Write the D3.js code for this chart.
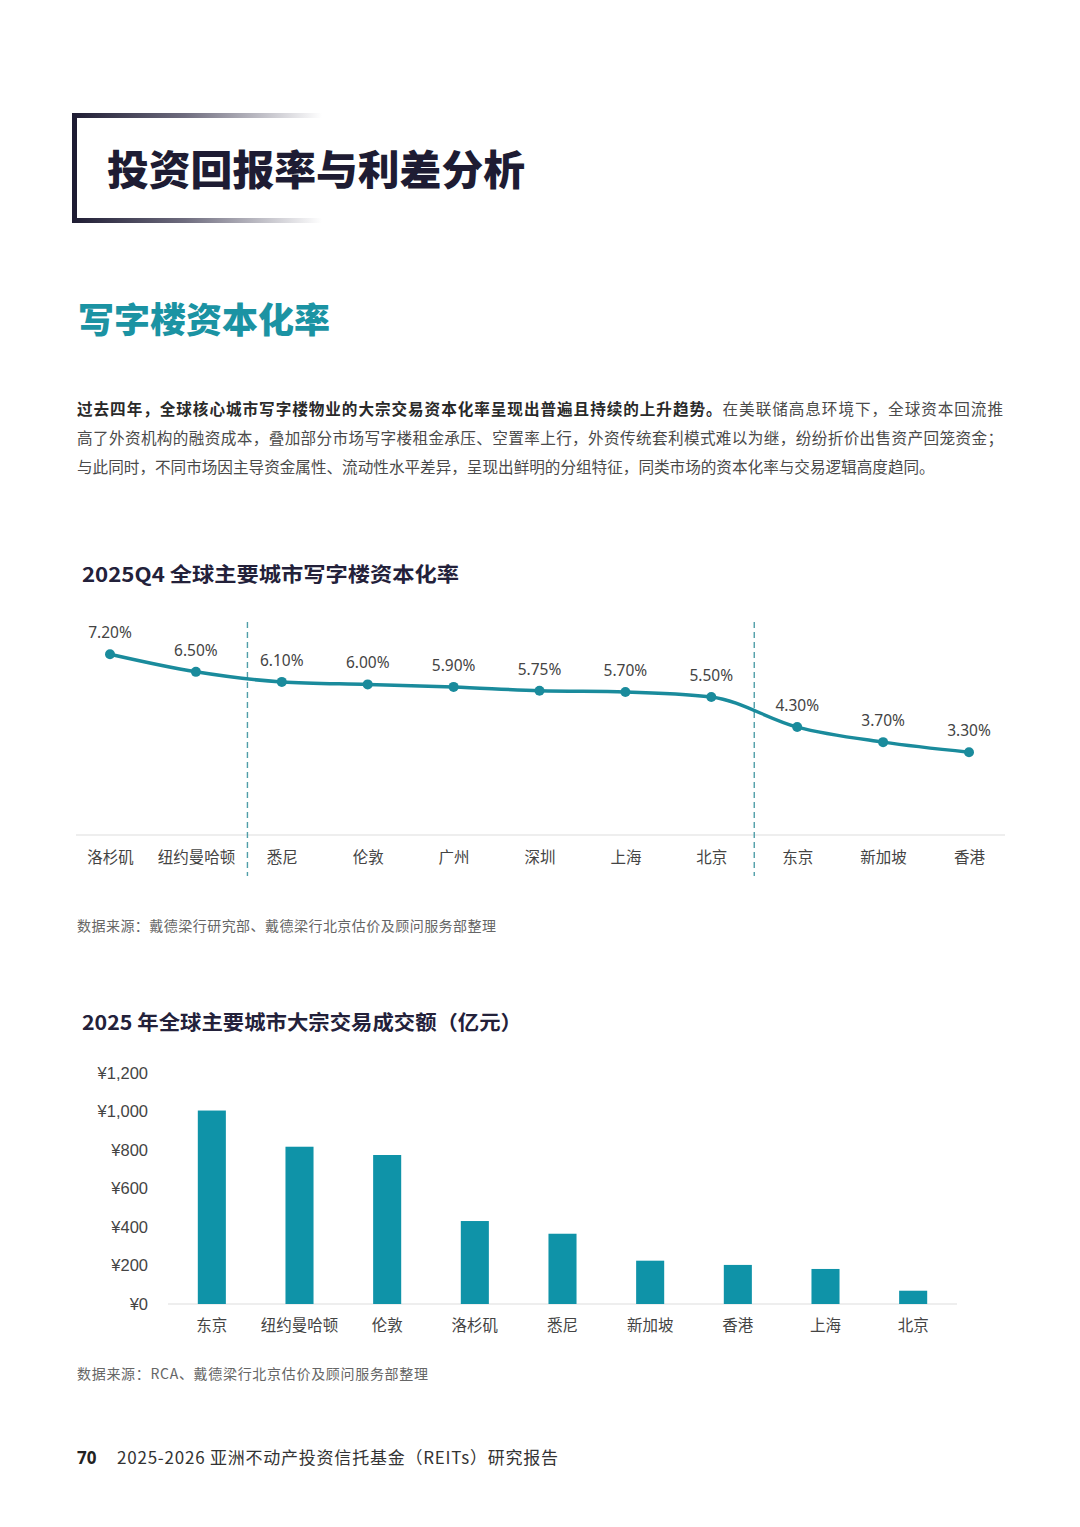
<!doctype html>
<html>
  <head>
    <meta charset="UTF-8">
    <title>投资回报率与利差分析</title>
    <script src="https://d3js.org/d3.v7.min.js"></script>
    <style>
      html, body { margin: 0; padding: 0; background: #fff; }
      svg { display: block; font-family: "Noto Sans", "Noto Sans CJK SC", sans-serif; }
      .cjk { font-family: "Noto Sans CJK SC", sans-serif; }
    </style>
  </head>
  <body>
    <svg id="page" width="1080" height="1527"></svg>
    <script>
      // Line chart: 2025Q4 office cap rates (%)
      const capCities = ["洛杉矶", "纽约曼哈顿", "悉尼", "伦敦", "广州", "深圳", "上海", "北京", "东京", "新加坡", "香港"];
      const capRates = [7.20, 6.50, 6.10, 6.00, 5.90, 5.75, 5.70, 5.50, 4.30, 3.70, 3.30];
      // group dividers, in category index units
      const capDividers = [1.6, 7.5];

      // Bar chart: 2025 transaction volume (亿元)
      const volCities = ["东京", "纽约曼哈顿", "伦敦", "洛杉矶", "悉尼", "新加坡", "香港", "上海", "北京"];
      const volValues = [1005, 817, 774, 431, 365, 225, 203, 182, 69];
      const volTicks = [0, 200, 400, 600, 800, 1000, 1200];

      const paraLines = [
        ["过去四年，全球核心城市写字楼物业的大宗交易资本化率呈现出普遍且持续的上升趋势。", "在美联储高息环境下，全球资本回流推"],
        ["", "高了外资机构的融资成本，叠加部分市场写字楼租金承压、空置率上行，外资传统套利模式难以为继，纷纷折价出售资产回笼资金；"],
        ["", "与此同时，不同市场因主导资金属性、流动性水平差异，呈现出鲜明的分组特征，同类市场的资本化率与交易逻辑高度趋同。"]
      ];

      const teal = "#1a8b9c";
      const barTeal = "#0f93a8";
      const navy = "#1e1c33";

      const svg = d3.select("#page");
      const defs = svg.append("defs");

      // ---- header box ----
      const grad = defs.append("linearGradient").attr("id", "fade")
        .attr("x1", "0%").attr("x2", "100%");
      grad.append("stop").attr("offset", "0%").attr("stop-color", navy);
      grad.append("stop").attr("offset", "45%").attr("stop-color", "#6e6c7e");
      grad.append("stop").attr("offset", "100%").attr("stop-color", "#ffffff");

      svg.append("rect").attr("x", 72).attr("y", 113).attr("width", 5).attr("height", 110).attr("fill", navy);
      svg.append("rect").attr("x", 72).attr("y", 113).attr("width", 250).attr("height", 5).attr("fill", "url(#fade)");
      svg.append("rect").attr("x", 72).attr("y", 218).attr("width", 250).attr("height", 5).attr("fill", "url(#fade)");

      svg.append("text").attr("class", "cjk")
        .attr("x", 107).attr("y", 185)
        .attr("font-size", 41).attr("font-weight", 900).attr("fill", navy)
        .attr("textLength", 418).attr("lengthAdjust", "spacingAndGlyphs")
        .text("投资回报率与利差分析");

      svg.append("text").attr("class", "cjk")
        .attr("x", 78).attr("y", 333)
        .attr("font-size", 35).attr("font-weight", 900).attr("fill", "#1b93a3")
        .attr("textLength", 252).attr("lengthAdjust", "spacingAndGlyphs")
        .text("写字楼资本化率");

      // ---- paragraph ----
      paraLines.forEach((ln, i) => {
        const t = svg.append("text").attr("class", "cjk")
          .attr("x", 77).attr("y", 415 + i * 29)
          .attr("font-size", 15.6).attr("fill", "#4a4a4a");
        if (i < 2) t.attr("textLength", 926).attr("lengthAdjust", "spacing");
        if (ln[0]) t.append("tspan").attr("font-weight", 700).attr("fill", "#2a2a2a").text(ln[0]);
        t.append("tspan").text(ln[1]);
      });

      // ---- chart 1: line ----
      svg.append("text").attr("class", "cjk")
        .attr("x", 82).attr("y", 582)
        .attr("font-size", 20).attr("font-weight", 700).attr("fill", "#23213a")
        .attr("textLength", 377).attr("lengthAdjust", "spacingAndGlyphs")
        .text("2025Q4 全球主要城市写字楼资本化率");

      const x1 = d3.scalePoint().domain(capCities).range([110, 969]);
      const xIdx = d3.scaleLinear().domain([0, capCities.length - 1]).range([110, 969]);
      const y1 = d3.scaleLinear().domain([0, 8]).range([835, 634.2]);

      svg.append("line").attr("x1", 76).attr("x2", 1005).attr("y1", 835).attr("y2", 835)
        .attr("stroke", "#e9e9e9").attr("stroke-width", 1.5);

      svg.selectAll(".divider").data(capDividers).join("line").attr("class", "divider")
        .attr("x1", d => xIdx(d)).attr("x2", d => xIdx(d))
        .attr("y1", 622).attr("y2", 876)
        .attr("stroke", "#4f9ea8").attr("stroke-width", 1.4).attr("stroke-dasharray", "6,4");

      const line = d3.line()
        .x((d, i) => x1(capCities[i]))
        .y(d => y1(d))
        .curve(d3.curveMonotoneX);

      svg.append("path").datum(capRates).attr("d", line)
        .attr("fill", "none").attr("stroke", teal).attr("stroke-width", 3.5)
        .attr("stroke-linejoin", "round");

      svg.selectAll(".pt").data(capRates).join("circle").attr("class", "pt")
        .attr("cx", (d, i) => x1(capCities[i])).attr("cy", d => y1(d))
        .attr("r", 5).attr("fill", teal);

      svg.selectAll(".plabel").data(capRates).join("text").attr("class", "plabel")
        .attr("x", (d, i) => x1(capCities[i])).attr("y", d => y1(d) - 16)
        .attr("text-anchor", "middle").attr("font-size", 15.5).attr("fill", "#444")
        .text(d => d.toFixed(2) + "%");

      const ax1 = svg.append("g").attr("transform", "translate(0,835)")
        .call(d3.axisBottom(x1).tickSize(0).tickPadding(17));
      ax1.select(".domain").remove();
      ax1.selectAll("text").attr("class", "cjk").attr("font-size", 15.5).attr("fill", "#444");

      svg.append("text").attr("class", "cjk")
        .attr("x", 77).attr("y", 931)
        .attr("font-size", 14).attr("fill", "#666")
        .attr("textLength", 419).attr("lengthAdjust", "spacing")
        .text("数据来源：戴德梁行研究部、戴德梁行北京估价及顾问服务部整理");

      // ---- chart 2: bars ----
      svg.append("text").attr("class", "cjk")
        .attr("x", 82).attr("y", 1030)
        .attr("font-size", 20).attr("font-weight", 700).attr("fill", "#23213a")
        .attr("textLength", 440).attr("lengthAdjust", "spacingAndGlyphs")
        .text("2025 年全球主要城市大宗交易成交额（亿元）");

      const x2 = d3.scaleBand().domain(volCities).range([168, 957])
        .paddingInner(0.68).paddingOuter(0.34);
      const y2 = d3.scaleLinear().domain([0, 1200]).range([1304, 1073]);

      svg.append("line").attr("x1", 168).attr("x2", 957).attr("y1", 1304).attr("y2", 1304)
        .attr("stroke", "#e9e9e9").attr("stroke-width", 1.5);

      svg.selectAll(".bar").data(volValues).join("rect").attr("class", "bar")
        .attr("x", (d, i) => x2(volCities[i])).attr("width", x2.bandwidth())
        .attr("y", d => y2(d)).attr("height", d => y2(0) - y2(d))
        .attr("fill", barTeal);

      const ay2 = svg.append("g").attr("transform", "translate(148,0)")
        .call(d3.axisLeft(y2).tickValues(volTicks).tickSize(0).tickPadding(0)
          .tickFormat(d => "¥" + d3.format(",")(d)));
      ay2.select(".domain").remove();
      ay2.selectAll("text").attr("font-size", 16.5).attr("fill", "#444");

      const ax2 = svg.append("g").attr("transform", "translate(0,1304)")
        .call(d3.axisBottom(x2).tickSize(0).tickPadding(16));
      ax2.select(".domain").remove();
      ax2.selectAll("text").attr("class", "cjk").attr("font-size", 15.5).attr("fill", "#444");

      svg.append("text").attr("class", "cjk")
        .attr("x", 77).attr("y", 1379)
        .attr("font-size", 14).attr("fill", "#666")
        .attr("textLength", 351).attr("lengthAdjust", "spacing")
        .text("数据来源：RCA、戴德梁行北京估价及顾问服务部整理");

      // ---- footer ----
      svg.append("text")
        .attr("x", 77).attr("y", 1464)
        .attr("font-size", 17).attr("font-weight", 700).attr("fill", "#222")
        .text("70");
      svg.append("text").attr("class", "cjk")
        .attr("x", 117).attr("y", 1464)
        .attr("font-size", 17).attr("fill", "#333")
        .attr("textLength", 441).attr("lengthAdjust", "spacing")
        .text("2025-2026 亚洲不动产投资信托基金（REITs）研究报告");
    </script>
  </body>
</html>
